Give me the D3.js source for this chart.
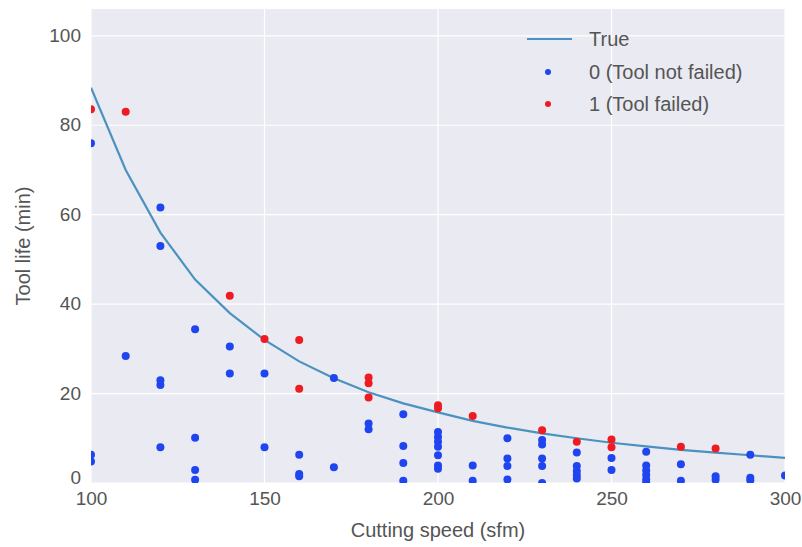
<html>
<head>
  <meta charset="utf-8">
  <title>Tool life vs cutting speed</title>
  <script src="https://cdnjs.cloudflare.com/ajax/libs/d3/7.8.5/d3.min.js"></script>
  <style>
    body { margin: 0; background: #fff; }
    svg { display: block; font-family: 'Liberation Sans', Arial, sans-serif; }
    .tick text { fill: #555; font-size: 19px; }
    .lbl { fill: #555; font-size: 20px; }
  </style>
</head>
<body>
<div id="chart"></div>
<script>
// "True" curve, read at every 10 sfm
var curveSpeed = [100, 110, 120, 130, 140, 150, 160, 170, 180, 190, 200,
                  210, 220, 230, 240, 250, 260, 270, 280, 290, 300];
var curveLife  = [88.4, 70, 56, 45.5, 38, 32, 27.2, 23.4, 20.3, 17.8, 15.8,
                  13.9, 12.4, 11.1, 10, 9, 8.2, 7.4, 6.8, 6.2, 5.6];

// 1 (Tool failed)
var failedSpeed = [100, 110, 140, 150, 160, 160, 180, 180, 180, 200, 200,
                   210, 230, 240, 250, 250, 270, 280];
var failedLife  = [83.6, 83.0, 41.9, 32.2, 32.0, 21.1, 23.6, 22.3, 19.1, 17.4, 16.7,
                   15.0, 11.8, 9.2, 9.7, 8.0, 8.1, 7.7];

// 0 (Tool not failed)
var okSpeed = [100, 100, 100, 110, 120, 120, 120, 120, 120, 130, 130, 130, 130,
               140, 140, 150, 150, 160, 160, 160, 170, 170, 180, 180,
               190, 190, 190, 190, 200, 200, 200, 200, 200, 200, 200,
               210, 210, 220, 220, 220, 220, 230, 230, 230, 230, 230,
               240, 240, 240, 240, 240, 250, 250, 260, 260, 260, 260, 260, 260,
               270, 270, 280, 280, 290, 290, 290, 300];
var okLife  = [76.0, 6.3, 4.8, 28.4, 61.6, 53.0, 23.0, 21.9, 8.0, 34.4, 10.1, 2.9, 0.7,
               30.5, 24.5, 24.5, 8.0, 6.3, 2.0, 1.5, 23.5, 3.5, 13.3, 12.0,
               15.4, 8.3, 4.5, 0.5, 11.4, 10.3, 9.2, 8.1, 6.2, 3.9, 3.2,
               3.9, 0.5, 10.0, 5.5, 3.8, 0.8, 9.6, 8.6, 5.5, 3.8, 0.0,
               6.8, 3.8, 2.7, 1.8, 1.0, 5.6, 2.9, 7.0, 3.9, 2.8, 1.8, 0.8, 0.1,
               4.2, 0.5, 1.5, 0.7, 6.3, 1.2, 0.6, 1.7];

var xTicks = [100, 150, 200, 250, 300];
var yTicks = [0, 20, 40, 60, 80, 100];

var W = 802, H = 547,
    m = {top: 9, right: 17, bottom: 64, left: 91},
    w = W - m.left - m.right,
    h = H - m.top - m.bottom;

var blue = '#1e45ef', red = '#ef1b22', lineCol = '#4a92bf';

var svg = d3.select('#chart').append('svg')
    .attr('width', W).attr('height', H);

var x = d3.scaleLinear().domain([100, 300]).range([0, w]);
var y = d3.scaleLinear().domain([0, 106]).range([h, 0]);

var g = svg.append('g').attr('transform', 'translate(' + m.left + ',' + m.top + ')');

svg.append('defs').append('clipPath').attr('id', 'clip')
  .append('rect').attr('width', w).attr('height', h);

g.append('rect').attr('width', w).attr('height', h).attr('fill', '#eaeaf2');

// grid
g.append('g').selectAll('line').data(xTicks).enter().append('line')
    .attr('x1', x).attr('x2', x).attr('y1', 0).attr('y2', h)
    .attr('stroke', '#fff').attr('stroke-width', 1.2);
g.append('g').selectAll('line').data(yTicks).enter().append('line')
    .attr('y1', y).attr('y2', y).attr('x1', 0).attr('x2', w)
    .attr('stroke', '#fff').attr('stroke-width', 1.2);

// axes (no tick marks, seaborn darkgrid)
var xAxis = g.append('g').attr('transform', 'translate(0,' + h + ')')
    .call(d3.axisBottom(x).tickValues(xTicks).tickSize(0).tickPadding(9));
var yAxis = g.append('g')
    .call(d3.axisLeft(y).tickValues(yTicks).tickSize(0).tickPadding(10));
g.selectAll('.domain').remove();
g.selectAll('.tick text').attr('font-family', null);
// "0" sits a bit higher so it clears the first x label
yAxis.selectAll('.tick text').attr('dy', function (d) { return d === 0 ? '0.05em' : '0.3em'; });

var plot = g.append('g').attr('clip-path', 'url(#clip)');

var line = d3.line().x(function (d) { return x(d[0]); }).y(function (d) { return y(d[1]); });
plot.append('path')
    .datum(d3.zip(curveSpeed, curveLife))
    .attr('d', line)
    .attr('fill', 'none')
    .attr('stroke', lineCol)
    .attr('stroke-width', 2.2);

plot.append('g').selectAll('circle').data(d3.zip(okSpeed, okLife)).enter().append('circle')
    .attr('cx', function (d) { return x(d[0]); })
    .attr('cy', function (d) { return y(d[1]); })
    .attr('r', 4).attr('fill', blue);

plot.append('g').selectAll('circle').data(d3.zip(failedSpeed, failedLife)).enter().append('circle')
    .attr('cx', function (d) { return x(d[0]); })
    .attr('cy', function (d) { return y(d[1]); })
    .attr('r', 4).attr('fill', red);

// axis labels
svg.append('text').attr('class', 'lbl')
    .attr('x', m.left + w / 2).attr('y', 537)
    .attr('text-anchor', 'middle')
    .text('Cutting speed (sfm)');
svg.append('text').attr('class', 'lbl')
    .attr('transform', 'translate(30,' + (m.top + h / 2) + ') rotate(-90)')
    .attr('text-anchor', 'middle')
    .text('Tool life (min)');

// legend
var lg = svg.append('g').attr('transform', 'translate(527,0)');
lg.append('line').attr('x1', 0).attr('x2', 45).attr('y1', 39).attr('y2', 39)
    .attr('stroke', lineCol).attr('stroke-width', 2.2);
lg.append('circle').attr('cx', 21).attr('cy', 72).attr('r', 3).attr('fill', blue);
lg.append('circle').attr('cx', 21).attr('cy', 104).attr('r', 3).attr('fill', red);
var names = ['True', '0 (Tool not failed)', '1 (Tool failed)'];
lg.selectAll('text.lg').data(names).enter().append('text')
    .attr('class', 'lbl')
    .attr('x', 62)
    .attr('y', function (d, i) { return 39 + i * 32.5; })
    .attr('dy', '0.35em')
    .text(function (d) { return d; });
</script>
</body>
</html>
